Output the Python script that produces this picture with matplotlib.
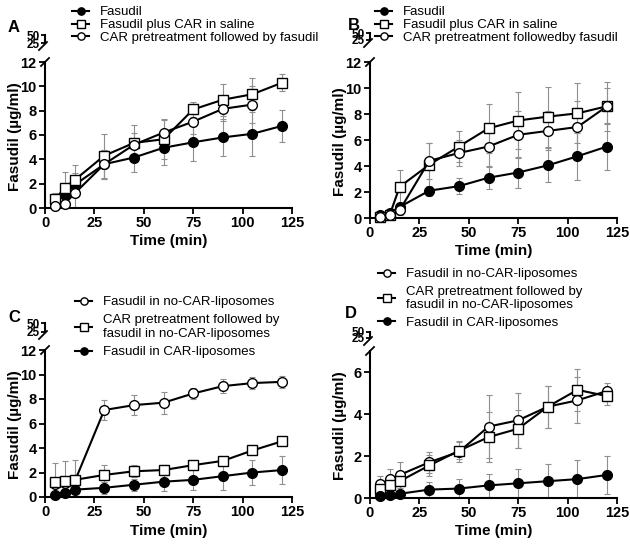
import matplotlib
matplotlib.use("Agg")
import matplotlib.pyplot as plt
from matplotlib.lines import Line2D

plt.rcParams['font.family'] = ['Liberation Sans', 'DejaVu Sans']

time = [5, 10, 15, 30, 45, 60, 75, 90, 105, 120]

# panel A
a_fas = [0.55, 1.1, 1.9, 3.6, 4.15, 4.95, 5.4, 5.8, 6.1, 6.75]
a_fas_err = [0.6, 0.9, 1.0, 1.2, 1.2, 1.4, 1.5, 1.5, 1.8, 1.3]
a_sal = [0.7, 1.65, 2.3, 4.3, 5.35, 5.65, 8.1, 8.9, 9.35, 10.3]
a_sal_err = [0.5, 1.3, 1.2, 1.8, 1.5, 1.6, 0.6, 1.3, 1.3, 0.7]
a_pre = [0.2, 0.35, 1.2, 3.6, 5.2, 6.2, 7.1, 8.15, 8.5]
a_pre_err = [0.3, 0.4, 1.2, 1.2, 1.0, 1.1, 1.0, 1.0, 1.5]

# panel B
b_fas = [0.2, 0.4, 0.85, 2.1, 2.45, 3.1, 3.5, 4.05, 4.75, 5.5]
b_fas_err = [0.1, 0.2, 0.3, 0.4, 0.6, 0.9, 1.2, 1.3, 1.8, 1.8]
b_sal = [0.1, 0.25, 2.4, 4.1, 5.5, 6.9, 7.5, 7.8, 8.05, 8.6]
b_sal_err = [0.1, 0.2, 1.3, 1.7, 1.2, 1.9, 2.2, 2.3, 2.3, 1.9]
b_pre = [0.1, 0.2, 0.6, 4.4, 5.0, 5.5, 6.4, 6.7, 7.0, 8.6]
b_pre_err = [0.1, 0.2, 0.4, 1.4, 1.0, 1.6, 1.8, 1.5, 2.0, 1.4]

# panel C
c_noc = [1.1, 1.15, 1.25, 7.1, 7.5, 7.7, 8.45, 9.05, 9.3, 9.4]
c_noc_err = [1.7, 1.8, 1.8, 0.8, 0.8, 0.9, 0.45, 0.55, 0.5, 0.5]
c_pre = [1.25, 1.3, 1.4, 1.8, 2.1, 2.2, 2.6, 2.95, 3.8, 4.55]
c_pre_err = [0.3, 0.3, 0.3, 0.8, 0.5, 0.4, 0.3, 0.35, 0.3, 0.3]
c_car = [0.15, 0.35, 0.6, 0.75, 1.0, 1.25, 1.4, 1.7, 2.0, 2.2]
c_car_err = [0.1, 0.15, 0.2, 0.5, 0.5, 0.75, 0.85, 1.1, 1.0, 1.15]

# panel D
d_noc = [0.65, 0.9, 1.1, 1.7, 2.2, 3.4, 3.7, 4.35, 4.65, 5.1]
d_noc_err = [0.4, 0.5, 0.6, 0.5, 0.5, 1.5, 1.3, 1.0, 1.1, 0.4]
d_pre = [0.45, 0.6, 0.8, 1.55, 2.25, 2.9, 3.3, 4.35, 5.15, 4.85]
d_pre_err = [0.3, 0.4, 0.5, 0.5, 0.4, 1.2, 0.9, 1.0, 1.0, 0.4]
d_car = [0.1, 0.15, 0.2, 0.4, 0.45, 0.6, 0.7, 0.8, 0.9, 1.1]
d_car_err = [0.05, 0.1, 0.1, 0.35, 0.45, 0.55, 0.7, 0.8, 0.9, 0.9]

W, H = 630, 545
fig = plt.figure(figsize=(6.3, 5.45), dpi=100)

STYLE = {'fill': dict(marker='o', mfc='black'),
         'square': dict(marker='s', mfc='white'),
         'open': dict(marker='o', mfc='white')}


def px_rect(left, right, top, bottom):
    return [left / W, 1 - bottom / H, (right - left) / W, (bottom - top) / H]


def slash(xp, yp, d=4):
    fig.add_artist(Line2D([(xp - d) / W, (xp + d) / W],
                          [1 - (yp + d) / H, 1 - (yp - d) / H],
                          color='black', lw=1.3))


def panel(letter, lx, ly, left, right, y0, ytop, u50, u25, ymax, yticks,
          series, leg_xy, lspace):
    ax = fig.add_axes(px_rect(left, right, ytop, y0))
    for s in series:
        x = time[:len(s['y'])]
        ax.errorbar(x, s['y'], yerr=s['err'], fmt='none', ecolor='#8f8f8f',
                    elinewidth=0.8, capsize=2, capthick=0.8, zorder=1)
    handles = []
    for s in series:
        x = time[:len(s['y'])]
        h, = ax.plot(x, s['y'], color='black', lw=1.5, ms=7, mec='black',
                     mew=1.0, clip_on=False, zorder=3, label=s['label'],
                     **STYLE[s['kind']])
        handles.append(h)
    ax.set_xlim(0, 125)
    ax.set_ylim(0, ymax)
    ax.set_xticks([0, 25, 50, 75, 100, 125])
    ax.set_yticks(yticks)
    for sp in ('top', 'right'):
        ax.spines[sp].set_visible(False)
    for sp in ('left', 'bottom'):
        ax.spines[sp].set_linewidth(1.5)
    ax.tick_params(width=1.3, length=4, labelsize=10.5, pad=2)
    for t in ax.get_xticklabels() + ax.get_yticklabels():
        t.set_fontweight('bold')
    ax.set_xlabel('Time (min)', fontsize=11, fontweight='bold', labelpad=3)
    ax.set_ylabel('Fasudil (µg/ml)', fontsize=11, fontweight='bold',
                  labelpad=3)
    ax.yaxis.set_label_coords(-0.095, 0.49)

    up = fig.add_axes(px_rect(left, right, u50, u25))
    up.set_ylim(25, 50)
    up.set_xlim(0, 125)
    up.set_yticks([25, 50])
    up.set_xticks([])
    for sp in ('top', 'right', 'bottom'):
        up.spines[sp].set_visible(False)
    up.spines['left'].set_linewidth(1.5)
    up.tick_params(width=1.3, length=3, labelsize=8.5, pad=1)
    for t in up.get_yticklabels():
        t.set_fontweight('bold')
    up.patch.set_alpha(0)

    slash(left, ytop)
    slash(left - 2, u25 + 3)

    fig.text(lx / W, 1 - ly / H, letter, fontsize=12, fontweight='bold',
             ha='left', va='center')
    fig.legend(handles=handles, loc='upper left',
               bbox_to_anchor=(leg_xy[0] / W, 1 - leg_xy[1] / H),
               bbox_transform=fig.transFigure, frameon=False,
               fontsize=9.5, handlelength=1.3, handletextpad=0.8,
               labelspacing=lspace, borderpad=0, borderaxespad=0,
               markerscale=0.75)


panel('A', 8, 27, 45, 292, 208, 62, 35, 43, 12, [0, 2, 4, 6, 8, 10, 12],
      [dict(y=a_fas, err=a_fas_err, kind='fill', label='Fasudil'),
       dict(y=a_sal, err=a_sal_err, kind='square',
            label='Fasudil plus CAR in saline'),
       dict(y=a_pre, err=a_pre_err, kind='open',
            label='CAR pretreatment followed by fasudil')],
      (72, 6), 0.05)

panel('B', 348, 25, 370, 617, 218, 62, 33, 40, 12, [0, 2, 4, 6, 8, 10, 12],
      [dict(y=b_fas, err=b_fas_err, kind='fill', label='Fasudil'),
       dict(y=b_sal, err=b_sal_err, kind='square',
            label='Fasudil plus CAR in saline'),
       dict(y=b_pre, err=b_pre_err, kind='open',
            label='CAR pretreatment followedby fasudil')],
      (375, 6), 0.05)

panel('C', 8, 317, 45, 292, 497, 350, 323, 332, 12, [0, 2, 4, 6, 8, 10, 12],
      [dict(y=c_noc, err=c_noc_err, kind='open',
            label='Fasudil in no-CAR-liposomes'),
       dict(y=c_pre, err=c_pre_err, kind='square',
            label='CAR pretreatment followed by\nfasudil in no-CAR-liposomes'),
       dict(y=c_car, err=c_car_err, kind='fill',
            label='Fasudil in CAR-liposomes')],
      (75, 296), 0.45)

panel('D', 345, 313, 370, 617, 498, 351, 332, 338, 7, [0, 2, 4, 6],
      [dict(y=d_noc, err=d_noc_err, kind='open',
            label='Fasudil in no-CAR-liposomes'),
       dict(y=d_pre, err=d_pre_err, kind='square',
            label='CAR pretreatment followed by\nfasudil in no-CAR-liposomes'),
       dict(y=d_car, err=d_car_err, kind='fill',
            label='Fasudil in CAR-liposomes')],
      (378, 268), 0.4)

fig.savefig('out.png', dpi=100)
